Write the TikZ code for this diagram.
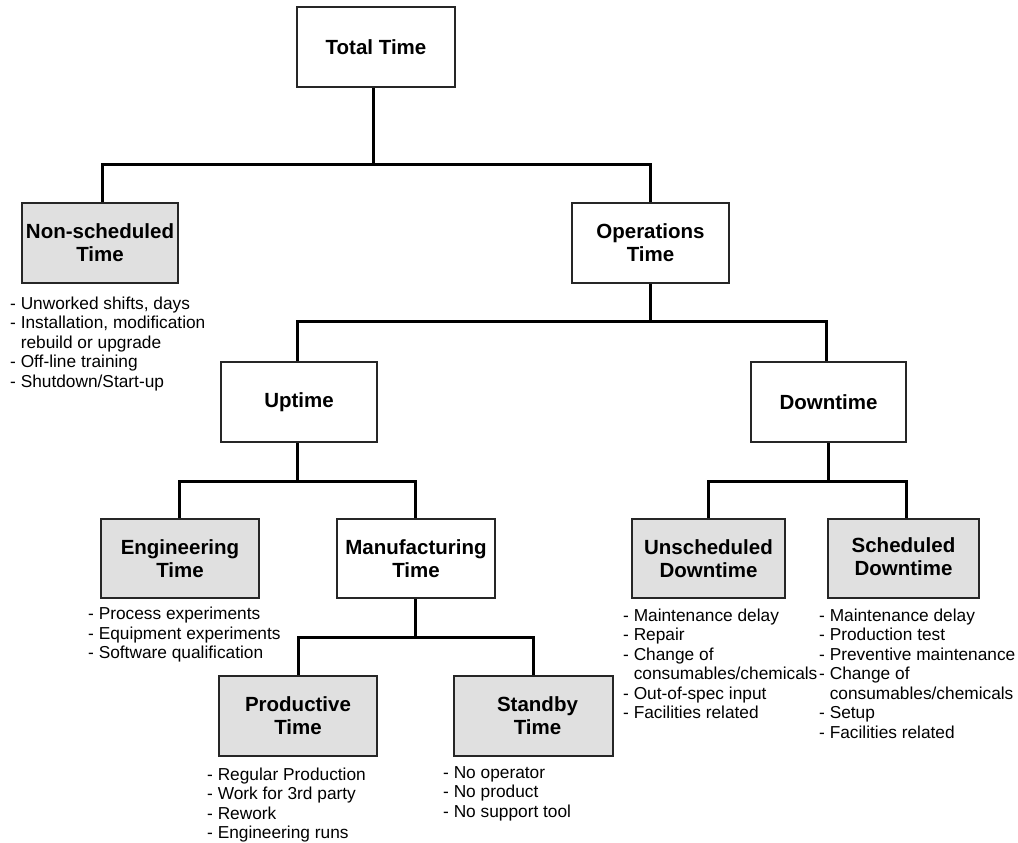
\documentclass[tikz,border=0pt]{standalone}
\usepackage{fontspec}
\setmainfont{Liberation Sans}
\newcommand\lowr[1]{\raisebox{-2.5pt}{#1}}
\begin{document}
\begin{tikzpicture}[x=1pt,y=-1pt,
  box/.style={draw=black!85, line width=2pt, minimum width=156pt, minimum height=80pt,
    inner sep=0pt, align=center, font=\fontsize{20.5}{23}\selectfont\bfseries},
  gbox/.style={box, fill=black!12},
  conn/.style={line width=3pt, line join=miter},
  lst/.style={anchor=north west, inner sep=0pt, align=left, font=\fontsize{17.3}{19.5}\selectfont}]
\useasboundingbox (0,0) rectangle (1018,843);
\fill[white] (0,0) rectangle (1018,843);
% boxes
\node[box]  (total)    at (376,47)     [minimum width=158pt] {\raisebox{-1pt}{Total Time}};
\node[gbox] (nonsched) at (100,243)    {\lowr{Non-scheduled}\\\lowr{Time}};
\node[box]  (ops)      at (650.5,243)  [minimum width=157pt] {\lowr{Operations}\\\lowr{Time}};
\node[box]  (uptime)   at (299,402)    {Uptime};
\node[box]  (down)     at (828.5,402)  [minimum width=155pt] {Downtime};
\node[gbox] (eng)      at (180,558.5)  [minimum width=158pt, minimum height=79pt] {Engineering\\Time};
\node[box]  (manu)     at (416,558.5)  [minimum width=158pt, minimum height=79pt] {Manufacturing\\Time};
\node[gbox] (prod)     at (298,716)    [minimum width=158pt] {Productive\\Time};
\node[gbox] (standby)  at (533.5,716)  [minimum width=159pt] {\hspace*{8pt}Standby\\\hspace*{8pt}Time};
\node[gbox] (unsched)  at (708.5,558.5)[minimum width=153pt, minimum height=79pt] {Unscheduled\\Downtime};
\node[gbox] (sched)    at (903.5,558.5)[minimum width=151pt, minimum height=79pt] {\raisebox{3pt}{Scheduled}\\\raisebox{3pt}{Downtime}};
% connector levels
\coordinate (h1) at (0,164);
\coordinate (h2) at (0,321);
\coordinate (h3) at (0,481);
\coordinate (h4) at (0,637);
\draw[conn] ([xshift=-3pt]total.south) -- ([xshift=-3pt]total.south |- h1) -| ([xshift=2pt]nonsched.north);
\draw[conn] ([xshift=-3pt]total.south |- h1) -| ([xshift=-0.5pt]ops.north);
\draw[conn] (ops.south) -- (ops.south |- h2) -| ([xshift=-2pt]uptime.north);
\draw[conn] (ops.south |- h2) -| ([xshift=-2.5pt]down.north);
\draw[conn] ([xshift=-2pt]uptime.south) -- ([xshift=-2pt]uptime.south |- h3) -| ([xshift=-1pt]eng.north);
\draw[conn] ([xshift=-2pt]uptime.south |- h3) -| ([xshift=-1pt]manu.north);
\draw[conn] ([xshift=-1pt]manu.south) -- ([xshift=-1pt]manu.south |- h4) -| (prod.north);
\draw[conn] ([xshift=-1pt]manu.south |- h4) -| ([xshift=-0.5pt]standby.north);
\draw[conn] (down.south) -- (down.south |- h3) -| (unsched.north);
\draw[conn] (down.south |- h3) -| ([xshift=2.5pt]sched.north);
% lists
\node[lst] (nslist) at (10,296.5) {- Unworked shifts, days\\- Installation, modification\\\phantom{- }rebuild or upgrade\\- Off-line training\\- Shutdown/Start-up};
\node[lst] (englist) at (88,607) {- Process experiments\\- Equipment experiments\\- Software qualification};
\node[lst] (prodlist) at (207,767.5) {- Regular Production\\- Work for 3rd party\\- Rework\\- Engineering runs};
\node[lst] (sblist) at (443,766) {- No operator\\- No product\\- No support tool};
\node[lst] (uslist) at (623,608.5) {- Maintenance delay\\- Repair\\- Change of\\\phantom{- }consumables/chemicals\\- Out-of-spec input\\- Facilities related};
\node[lst] (slist) at (819,608.5) {- Maintenance delay\\- Production test\\- Preventive maintenance\\- Change of\\\phantom{- }consumables/chemicals\\- Setup\\- Facilities related};
\end{tikzpicture}
\end{document}
